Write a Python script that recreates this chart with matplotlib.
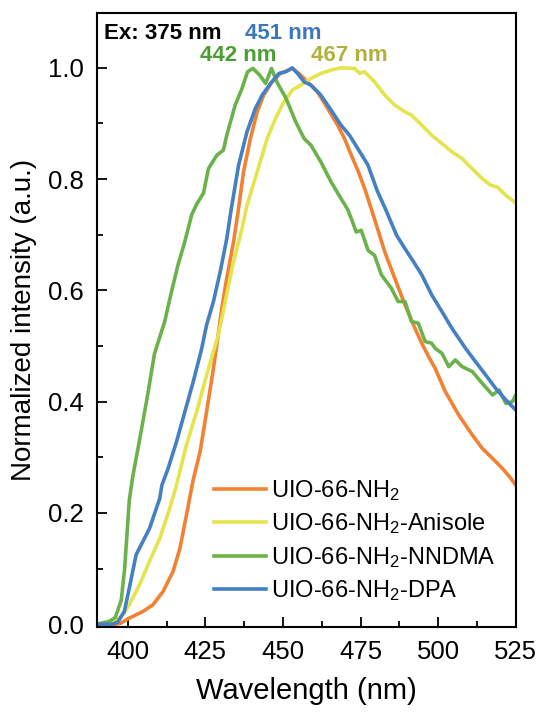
import matplotlib
matplotlib.use('Agg')
import matplotlib.pyplot as plt
from matplotlib.ticker import MultipleLocator, FormatStrFormatter

plt.rcParams['font.family'] = ['Liberation Sans', 'DejaVu Sans']
plt.rcParams['mathtext.default'] = 'regular'

# UIO-66-NH2
wl_nh2 = [390, 396.2, 397.8, 400.5, 404.9, 408.1, 411.4, 414.6, 416.8, 418.9, 421.1, 423.3, 425.4,
          427.6, 428.7, 430.3, 431.9, 434.1, 435.5, 437.3, 439.5, 441.7, 443.8, 446.5, 449.2, 453.0,
          455.7, 458.4, 461.1, 464.4, 467.6, 469.8, 472.0, 474.1, 476.5, 479.5, 482.8, 486.0, 489.3,
          492.5, 494.7, 497.0, 499.0, 502.3, 506.6, 511.0, 514.2, 517.5, 520.7, 523.0, 525]
int_nh2 = [0.0, 0.0, 0.002, 0.011, 0.023, 0.035, 0.059, 0.095, 0.136, 0.196, 0.26, 0.31, 0.382,
           0.46, 0.502, 0.568, 0.622, 0.688, 0.74, 0.813, 0.873, 0.921, 0.951, 0.975, 0.99, 0.999,
           0.987, 0.972, 0.957, 0.927, 0.897, 0.873, 0.843, 0.816, 0.78, 0.728, 0.669, 0.622, 0.574,
           0.532, 0.505, 0.48, 0.46, 0.418, 0.376, 0.34, 0.316, 0.298, 0.28, 0.265, 0.25]

# UIO-66-NH2-Anisole
wl_ani = [390, 394, 396.2, 398.4, 400.5, 403.8, 407.0, 410.3, 413.5, 415.7, 418.9, 422.2, 425.4,
          429.2, 431.4, 434.1, 436.8, 438.4, 441.7, 444.9, 447.6, 450.3, 453.0, 455.7, 459.0, 462.2,
          465.5, 468.7, 473.1, 474.7, 476.3, 479.5, 482.8, 486.0, 489.3, 491.4, 494.7, 497.9, 501.2,
          504.4, 507.7, 510.9, 514.2, 516.9, 519.0, 521.8, 525]
int_ani = [0.0, 0.0, 0.005, 0.017, 0.035, 0.071, 0.113, 0.154, 0.208, 0.25, 0.322, 0.382, 0.448,
           0.52, 0.58, 0.652, 0.711, 0.753, 0.813, 0.873, 0.909, 0.939, 0.96, 0.969, 0.981, 0.99,
           0.996, 1.0, 0.999, 0.99, 0.993, 0.975, 0.951, 0.933, 0.921, 0.915, 0.897, 0.879, 0.864,
           0.849, 0.837, 0.819, 0.801, 0.789, 0.786, 0.771, 0.757]

# UIO-66-NH2-NNDMA
wl_nndma = [390, 394.0, 396.0, 397.9, 399.0, 400.5, 401.6, 403.8, 406.5, 408.6, 411.9, 414.1,
            416.2, 418.4, 420.6, 422.2, 424.4, 426.0, 428.7, 430.8, 431.9, 434.6, 436.8, 438.6, 440.3,
            442.5, 444.4, 446.3, 448.0, 451.0, 454.1, 456.8, 459.0, 462.2, 465.5, 468.7, 470.9, 472.0,
            473.6, 475.2, 477.4, 479.5, 481.7, 484.9, 487.1, 489.3, 491.4, 493.6, 495.8, 497.9, 499.0,
            501.2, 503.4, 505.5, 507.7, 511.0, 514.2, 517.5, 519.6, 521.8, 523.9, 525]
int_nndma = [0.0, 0.005, 0.012, 0.043, 0.10, 0.223, 0.265, 0.331, 0.415, 0.486, 0.544, 0.598,
             0.646, 0.688, 0.736, 0.755, 0.775, 0.819, 0.843, 0.852, 0.879, 0.933, 0.963, 0.993, 0.999,
             0.987, 0.972, 0.999, 0.975, 0.945, 0.903, 0.873, 0.861, 0.831, 0.795, 0.765, 0.745, 0.729,
             0.705, 0.708, 0.672, 0.663, 0.628, 0.604, 0.58, 0.58, 0.544, 0.541, 0.508, 0.505, 0.496,
             0.487, 0.463, 0.475, 0.463, 0.454, 0.433, 0.412, 0.421, 0.397, 0.4, 0.412]

# UIO-66-NH2-DPA
wl_dpa = [390, 395, 396.8, 398.9, 400.5, 402.7, 404.9, 407.0, 410.3, 411.0, 413.0, 415.7, 418.4,
          421.1, 423.8, 425.4, 427.6, 429.8, 431.9, 433.3, 435.7, 438.4, 441.1, 443.3, 446.0, 448.7,
          450.9, 453.0, 454.7, 456.8, 459.0, 462.2, 465.5, 468.7, 471.4, 474.1, 477.4, 480.3, 483.5,
          486.6, 489.3, 492.0, 494.7, 497.9, 501.2, 504.4, 507.7, 508.8, 512.0, 515.3, 518.5, 521.8, 525]
int_dpa = [0.0, 0.0, 0.004, 0.023, 0.065, 0.125, 0.149, 0.172, 0.226, 0.25, 0.28, 0.328, 0.382,
           0.436, 0.495, 0.538, 0.58, 0.634, 0.693, 0.745, 0.825, 0.885, 0.927, 0.951, 0.972, 0.99,
           0.993, 1.0, 0.99, 0.975, 0.969, 0.951, 0.924, 0.897, 0.879, 0.855, 0.825, 0.78, 0.74,
           0.699, 0.675, 0.652, 0.628, 0.592, 0.562, 0.532, 0.505, 0.496, 0.472, 0.448, 0.424, 0.403, 0.385]

labels = ['UIO-66-NH$_2$', 'UIO-66-NH$_2$-Anisole', 'UIO-66-NH$_2$-NNDMA', 'UIO-66-NH$_2$-DPA']
colors = ['#F28233', '#E4E44E', '#6CB24A', '#4480C2']

fig = plt.figure(figsize=(5.39, 7.17), dpi=100)
ax = fig.add_axes([0.1794, 0.1255, 0.7776, 0.8559])

series = [(wl_nh2, int_nh2), (wl_ani, int_ani), (wl_nndma, int_nndma), (wl_dpa, int_dpa)]
for (x, y), lab, c in zip(series, labels, colors):
    ax.plot(x, y, color=c, lw=2.6, label=lab)

ax.set_xlim(390, 525)
ax.set_ylim(-0.005, 1.098)
ax.xaxis.set_major_locator(MultipleLocator(25))
ax.xaxis.set_minor_locator(MultipleLocator(12.5))
ax.yaxis.set_major_locator(MultipleLocator(0.2))
ax.yaxis.set_minor_locator(MultipleLocator(0.1))
ax.yaxis.set_major_formatter(FormatStrFormatter('%.1f'))
ax.tick_params(which='both', direction='in', width=1.3, labelsize=18.5, pad=9)
ax.tick_params(which='major', length=7)
ax.tick_params(which='minor', length=4.5)
for s in ax.spines.values():
    s.set_linewidth(1.5)

ax.set_xlabel('Wavelength (nm)', fontsize=21, labelpad=10)
ax.set_ylabel('Normalized intensity (a.u.)', fontsize=20, labelpad=8)

ax.text(392.5, 1.062, 'Ex: 375 nm', fontsize=16, fontweight='bold', color='black', va='center', ha='left')
ax.text(450.1, 1.062, '451 nm', fontsize=16, fontweight='bold', color='#3A78BE', va='center', ha='center')
ax.text(435.5, 1.023, '442 nm', fontsize=16, fontweight='bold', color='#4A9E33', va='center', ha='center')
ax.text(471.5, 1.023, '467 nm', fontsize=16, fontweight='bold', color='#B0B03C', va='center', ha='center')

ax.legend(loc='upper left', bbox_to_anchor=(0.258, 0.258), frameon=False, fontsize=17,
          handlelength=2.2, handletextpad=0.2, labelspacing=0.36, borderaxespad=0)

fig.savefig('out.png', dpi=100)
